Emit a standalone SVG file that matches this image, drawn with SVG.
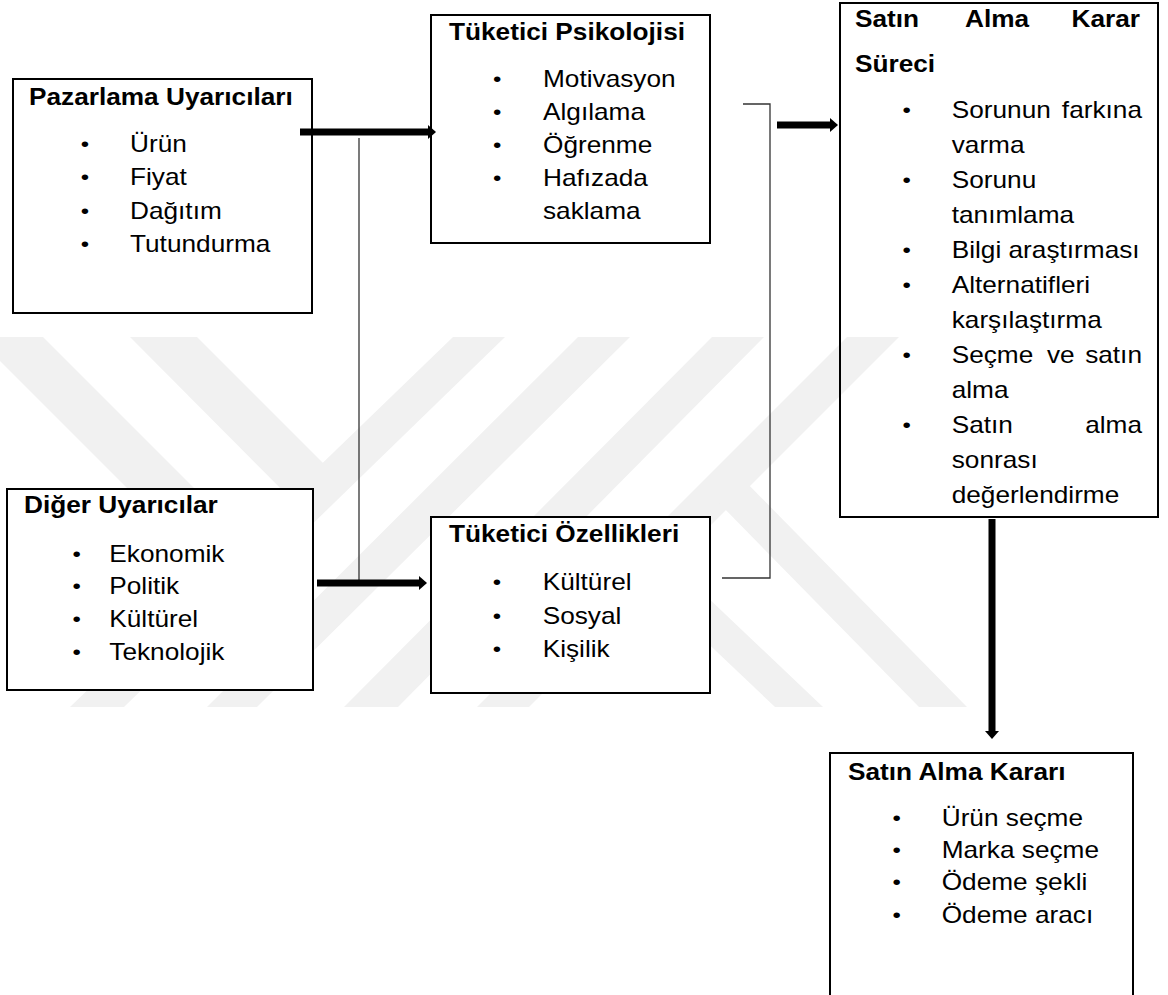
<svg xmlns="http://www.w3.org/2000/svg" width="1168" height="995" viewBox="0 0 1168 995">
<style>
.t{font-family:"Liberation Sans",Arial,sans-serif;font-size:23px;fill:#000}
.b{font-weight:bold}
.u{font-family:"Liberation Sans",Arial,sans-serif;font-size:21px;fill:#000}
.box{fill:#fff;stroke:#000;stroke-width:2}
.open{fill:none;stroke:#000;stroke-width:2}
.wm{fill:#f1f1f1}
.thick{stroke:#000;stroke-width:7;fill:none}
.thin{stroke:#333;stroke-width:1.3;fill:none}
</style>
<defs>
<marker id="ah" markerUnits="userSpaceOnUse" markerWidth="8" markerHeight="14" viewBox="0 0 8 14" refX="0" refY="7" orient="auto">
<path d="M0,0 L8,7 L0,14 z" fill="#000"/>
</marker>
</defs>
<rect width="1168" height="995" fill="#fff"/>
<g id="watermark">
<polygon class="wm" points="-24,337 43,337 315,609 281,642"/>
<polygon class="wm" points="130,337 197,337 328,468 292,500"/>
<polygon class="wm" points="70,707 124,707 505,337 453,337"/>
<polygon class="wm" points="207,707 257,707 630,337 578,337"/>
<polygon class="wm" points="344,707 398,707 764,337 712,337"/>
<polygon class="wm" points="477,707 529,707 899,337 847,337"/>
<polygon class="wm" points="640,579 775,707 823,707 664,556"/>
<polygon class="wm" points="718,502 919,707 967,707 742,478"/>
</g>
<g id="pazarlama">
<rect class="box" x="13" y="79" width="299" height="234"/>
<text class="t b" transform="matrix(1.14 0 0 1 29 105)">Pazarlama Uyarıcıları</text>
<text class="u" transform="matrix(1.14 0 0 1 80.8 150.5)">•</text>
<text class="t" transform="matrix(1.14 0 0 1 130 151.5)">Ürün</text>
<text class="u" transform="matrix(1.14 0 0 1 80.8 184)">•</text>
<text class="t" transform="matrix(1.14 0 0 1 130 185)">Fiyat</text>
<text class="u" transform="matrix(1.14 0 0 1 80.8 217.5)">•</text>
<text class="t" transform="matrix(1.14 0 0 1 130 218.5)">Dağıtım</text>
<text class="u" transform="matrix(1.14 0 0 1 80.8 251)">•</text>
<text class="t" transform="matrix(1.14 0 0 1 130 252)">Tutundurma</text>
</g>
<g id="psikoloji">
<rect class="box" x="431" y="15" width="279" height="228"/>
<text class="t b" transform="matrix(1.14 0 0 1 449 40)">Tüketici Psikolojisi</text>
<text class="u" transform="matrix(1.14 0 0 1 493.1 86)">•</text>
<text class="t" transform="matrix(1.14 0 0 1 543 87)">Motivasyon</text>
<text class="u" transform="matrix(1.14 0 0 1 493.1 119)">•</text>
<text class="t" transform="matrix(1.14 0 0 1 543 120)">Algılama</text>
<text class="u" transform="matrix(1.14 0 0 1 493.1 152)">•</text>
<text class="t" transform="matrix(1.14 0 0 1 543 153)">Öğrenme</text>
<text class="u" transform="matrix(1.14 0 0 1 493.1 184.5)">•</text>
<text class="t" transform="matrix(1.14 0 0 1 543 185.5)">Hafızada</text>
<text class="t" transform="matrix(1.14 0 0 1 543 218.5)">saklama</text>
</g>
<g id="diger">
<rect class="box" x="7" y="489" width="306" height="201"/>
<text class="t b" transform="matrix(1.14 0 0 1 24 513)">Diğer Uyarıcılar</text>
<text class="u" transform="matrix(1.14 0 0 1 72.5 560.5)">•</text>
<text class="t" transform="matrix(1.14 0 0 1 109.3 561.5)">Ekonomik</text>
<text class="u" transform="matrix(1.14 0 0 1 72.5 593)">•</text>
<text class="t" transform="matrix(1.14 0 0 1 109.3 594)">Politik</text>
<text class="u" transform="matrix(1.14 0 0 1 72.5 626)">•</text>
<text class="t" transform="matrix(1.14 0 0 1 109.3 627)">Kültürel</text>
<text class="u" transform="matrix(1.14 0 0 1 72.5 659)">•</text>
<text class="t" transform="matrix(1.14 0 0 1 109.3 660)">Teknolojik</text>
</g>
<g id="ozellikleri">
<rect class="box" x="431" y="517" width="279" height="176"/>
<text class="t b" transform="matrix(1.14 0 0 1 449 542)">Tüketici Özellikleri</text>
<text class="u" transform="matrix(1.14 0 0 1 492.8 589)">•</text>
<text class="t" transform="matrix(1.14 0 0 1 542.7 590)">Kültürel</text>
<text class="u" transform="matrix(1.14 0 0 1 492.8 622.5)">•</text>
<text class="t" transform="matrix(1.14 0 0 1 542.7 623.5)">Sosyal</text>
<text class="u" transform="matrix(1.14 0 0 1 492.8 656)">•</text>
<text class="t" transform="matrix(1.14 0 0 1 542.7 657)">Kişilik</text>
</g>
<g id="surec">
<rect class="open" x="840" y="3" width="318" height="514"/>
<text class="t b" transform="matrix(1.14 0 0 1 855 27)">Satın</text>
<text class="t b" transform="matrix(1.14 0 0 1 965 27)">Alma</text>
<text class="t b" text-anchor="end" transform="matrix(1.14 0 0 1 1140 27)">Karar</text>
<text class="t b" transform="matrix(1.14 0 0 1 855 72)">Süreci</text>
<text class="u" transform="matrix(1.14 0 0 1 902.5 117.3)">•</text>
<text class="t" transform="matrix(1.14 0 0 1 951.7 118.3)">Sorunun</text>
<text class="t" text-anchor="end" transform="matrix(1.14 0 0 1 1142 118.3)">farkına</text>
<text class="t" transform="matrix(1.14 0 0 1 951.7 153.3)">varma</text>
<text class="u" transform="matrix(1.14 0 0 1 902.5 187.3)">•</text>
<text class="t" transform="matrix(1.14 0 0 1 951.7 188.3)">Sorunu</text>
<text class="t" transform="matrix(1.14 0 0 1 951.7 223.3)">tanımlama</text>
<text class="u" transform="matrix(1.14 0 0 1 902.5 257.3)">•</text>
<text class="t" transform="matrix(1.14 0 0 1 951.7 258.3)">Bilgi araştırması</text>
<text class="u" transform="matrix(1.14 0 0 1 902.5 292.3)">•</text>
<text class="t" transform="matrix(1.14 0 0 1 951.7 293.3)">Alternatifleri</text>
<text class="t" transform="matrix(1.14 0 0 1 951.7 328.3)">karşılaştırma</text>
<text class="u" transform="matrix(1.14 0 0 1 902.5 362.3)">•</text>
<text class="t" transform="matrix(1.14 0 0 1 951.7 363.3)">Seçme</text>
<text class="t" transform="matrix(1.14 0 0 1 1047 363.3)">ve</text>
<text class="t" text-anchor="end" transform="matrix(1.14 0 0 1 1142 363.3)">satın</text>
<text class="t" transform="matrix(1.14 0 0 1 951.7 398.3)">alma</text>
<text class="u" transform="matrix(1.14 0 0 1 902.5 432.3)">•</text>
<text class="t" transform="matrix(1.14 0 0 1 951.7 433.3)">Satın</text>
<text class="t" text-anchor="end" transform="matrix(1.14 0 0 1 1142 433.3)">alma</text>
<text class="t" transform="matrix(1.14 0 0 1 951.7 468.3)">sonrası</text>
<text class="t" transform="matrix(1.14 0 0 1 951.7 503.3)">değerlendirme</text>
</g>
<g id="karar">
<rect class="box" x="830" y="753" width="303" height="260"/>
<text class="t b" transform="matrix(1.14 0 0 1 848 780)">Satın Alma Kararı</text>
<text class="u" transform="matrix(1.14 0 0 1 892.5 825)">•</text>
<text class="t" transform="matrix(1.14 0 0 1 941.7 826)">Ürün seçme</text>
<text class="u" transform="matrix(1.14 0 0 1 892.5 857)">•</text>
<text class="t" transform="matrix(1.14 0 0 1 941.7 858)">Marka seçme</text>
<text class="u" transform="matrix(1.14 0 0 1 892.5 889)">•</text>
<text class="t" transform="matrix(1.14 0 0 1 941.7 890)">Ödeme şekli</text>
<text class="u" transform="matrix(1.14 0 0 1 892.5 921.5)">•</text>
<text class="t" transform="matrix(1.14 0 0 1 941.7 922.5)">Ödeme aracı</text>
</g>
<g id="connectors">
<line class="thick" x1="300" y1="132" x2="428" y2="132" marker-end="url(#ah)"/>
<line class="thin" x1="359" y1="138" x2="359" y2="580"/>
<line class="thick" x1="317" y1="583" x2="419" y2="583" marker-end="url(#ah)"/>
<path class="thin" d="M743,104 H770 V578 H722"/>
<line class="thick" x1="777" y1="125" x2="830" y2="125" marker-end="url(#ah)"/>
<line class="thick" x1="992" y1="519" x2="992" y2="731" marker-end="url(#ah)"/>
</g>
</svg>
